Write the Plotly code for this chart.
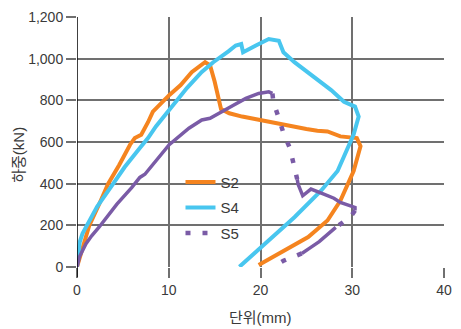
import plotly.graph_objects as go

# S2 (orange)
s2_x = [0, 0.5, 1.33, 2.4, 3.4, 4.6, 5.78, 6.3, 7.0, 7.74, 8.27, 10.05, 11.3, 12.5, 13.6, 13.96,
        14.5, 15.0, 15.7, 16.6, 18.0, 19.8, 21.5, 23.4, 25.0, 26.2, 27.3, 28.7, 30.5, 30.9,
        30.15, 28.7, 27.3, 25.2, 22.7, 19.8]
s2_y = [0, 70, 198, 300, 400, 490, 587, 619, 635, 695, 746, 825, 873, 935, 975, 983,
        968, 890, 758, 738, 722, 706, 690, 675, 662, 654, 651, 627, 619, 580,
        461, 318, 223, 144, 81, 10]

# S4 (cyan)
s4_x = [0, 0.15, 0.3, 0.6, 1.15, 2.2, 3.65, 5.2, 6.85, 7.74, 8.6, 10.4, 12.0, 13.6, 14.85, 16.5,
        17.3, 17.9, 18.1, 19.5, 20.9, 22.0, 22.5, 23.7, 25.5, 27.7, 29.1, 30.3, 30.7,
        30.15, 28.4, 26.6, 23.7, 20.9, 17.7]
s4_y = [0, 70, 120, 160, 207, 290, 381, 480, 571, 619, 675, 777, 860, 936, 983, 1035,
        1063, 1070, 1031, 1063, 1094, 1086, 1031, 983, 920, 849, 793, 770, 722,
        636, 461, 366, 239, 128, 1]

# S5 (purple) - solid loading branch
s5_load_x = [0, 0.27, 0.98, 1.6, 2.4, 4.35, 5.96, 6.85, 7.4, 8.6, 10.05, 12.2, 13.6, 14.5, 15.9,
             17.0, 18.4, 19.8, 20.9, 21.3]
s5_load_y = [0, 49, 112, 150, 191, 302, 381, 430, 445, 508, 587, 666, 706, 714, 746,
             775, 809, 833, 841, 833]
# S5 dotted drop
s5_drop_x = [21.3, 21.4, 22.0, 22.5, 23.2, 23.6, 24.0]
s5_drop_y = [833, 793, 714, 643, 571, 493, 421]
# S5 solid post-peak
s5_post_x = [24.0, 24.1, 24.6, 25.5, 26.9, 28.0, 28.7, 29.4, 30.3, 30.3]
s5_post_y = [421, 397, 342, 374, 350, 330, 310, 300, 286, 271]
# S5 dotted unloading start
s5_un1_x = [30.3, 29.8, 29.0, 28.2]
s5_un1_y = [271, 240, 215, 190]
# S5 solid unloading middle
s5_un2_x = [28.2, 27.4, 26.4, 25.4, 24.5]
s5_un2_y = [190, 160, 122, 92, 65]
# S5 dotted unloading end
s5_un3_x = [24.5, 23.5, 22.5, 21.3]
s5_un3_y = [65, 48, 30, 0]

x_ticks = [0, 10, 20, 30, 40]
y_ticks = [0, 200, 400, 600, 800, 1000, 1200]
y_tick_text = ["0", "200", "400", "600", "800", "1,000", "1,200"]

ORANGE = "#F5841F"
CYAN = "#48C6EF"
PURPLE = "#7A5BA6"
DOT = "5px,12px"

fig = go.Figure()
fig.add_trace(go.Scatter(x=s2_x, y=s2_y, mode="lines", name="S2", legendgroup="a",
                         line=dict(color=ORANGE, width=4)))
fig.add_trace(go.Scatter(x=s4_x, y=s4_y, mode="lines", name="S4", legendgroup="b",
                         line=dict(color=CYAN, width=4)))
fig.add_trace(go.Scatter(x=s5_drop_x, y=s5_drop_y, mode="lines", name="S5", legendgroup="c",
                         line=dict(color=PURPLE, width=4.5, dash=DOT)))
for xs, ys in [(s5_un1_x, s5_un1_y), (s5_un3_x, s5_un3_y)]:
    fig.add_trace(go.Scatter(x=xs, y=ys, mode="lines", showlegend=False, legendgroup="c",
                             line=dict(color=PURPLE, width=4.5, dash=DOT)))
for xs, ys in [(s5_load_x, s5_load_y), (s5_post_x, s5_post_y), (s5_un2_x, s5_un2_y)]:
    fig.add_trace(go.Scatter(x=xs, y=ys, mode="lines", showlegend=False, legendgroup="c",
                             line=dict(color=PURPLE, width=3.5)))

FONT = "Liberation Sans, Arial, Noto Sans CJK KR"
TXT = "#3a3a3a"
fig.update_layout(
    width=461, height=329,
    margin=dict(l=77, r=9, t=14, b=62),
    plot_bgcolor="white", paper_bgcolor="white",
    font=dict(family=FONT, size=15, color=TXT),
    showlegend=True,
    legend=dict(x=0.282, y=0.405, xanchor="left", yanchor="top",
                bgcolor="rgba(0,0,0,0)", font=dict(size=15, color=TXT),
                tracegroupgap=3, itemwidth=30, traceorder="grouped"),
    xaxis=dict(range=[0, 40], tickvals=x_ticks, showgrid=True, gridcolor="#707070",
               gridwidth=1.5, zeroline=False, showline=False, ticks="outside",
               ticklen=10, tickcolor="#707070", tickwidth=1.5,
               tickfont=dict(size=14, color=TXT)),
    yaxis=dict(range=[0, 1200], tickvals=y_ticks, ticktext=y_tick_text, showgrid=True,
               gridcolor="#707070", gridwidth=1.5, zeroline=False, showline=False,
               ticks="outside", ticklen=10, tickcolor="#707070", tickwidth=1.5,
               tickfont=dict(size=14, color=TXT)),
    annotations=[
        dict(text="단위(mm)", xref="paper", yref="paper", x=0.5, y=-0.2,
             showarrow=False, xanchor="center", yanchor="middle",
             font=dict(size=15, color=TXT)),
        dict(text="하중(kN)", xref="paper", yref="paper", x=-0.16, y=0.45,
             showarrow=False, textangle=-90, xanchor="center", yanchor="middle",
             font=dict(size=15, color=TXT)),
    ],
    shapes=[dict(type="line", xref="x", yref="paper", x0=0, x1=0, y0=0, y1=1,
                 line=dict(color="black", width=1.5)),
            dict(type="line", xref="x", yref="paper", x0=0, x1=0, y0=0, y1=-0.04,
                 line=dict(color="black", width=1.5))],
)

fig.write_html("out.html", config={"displayModeBar": False},
               post_script="document.body.style.margin='0';document.body.style.overflow='hidden';")
